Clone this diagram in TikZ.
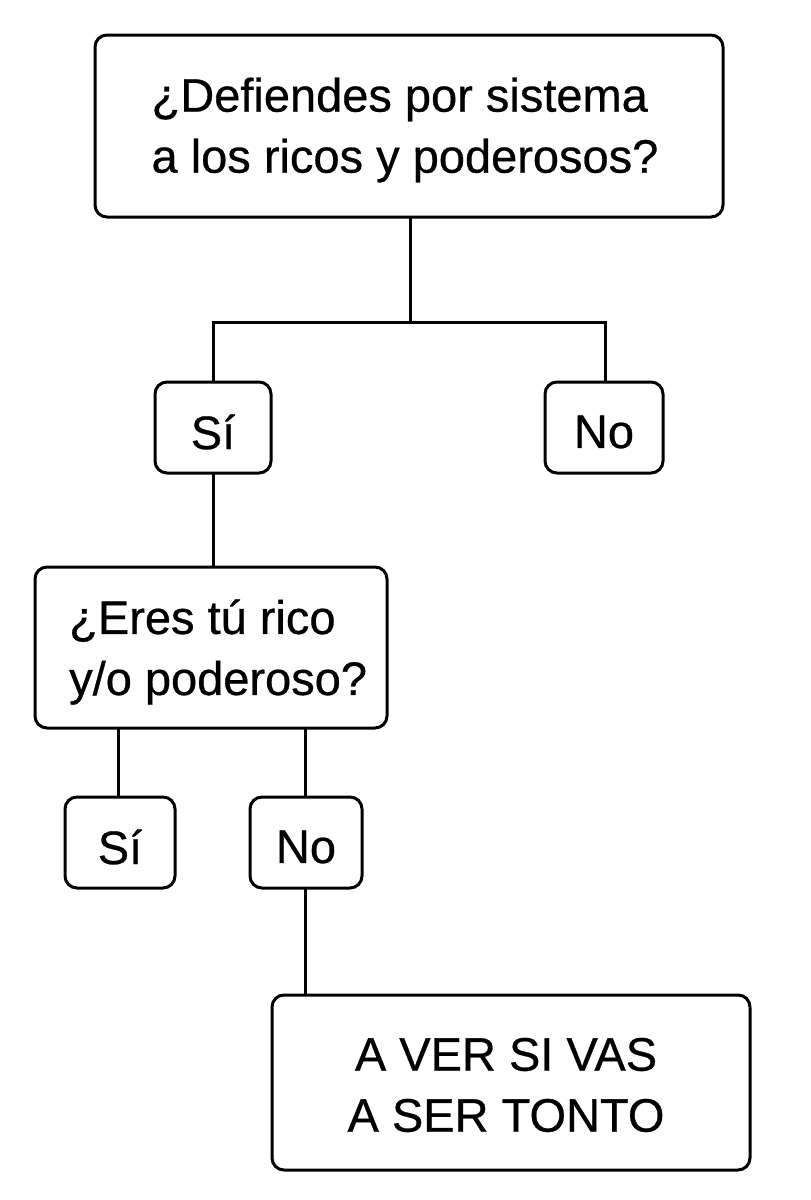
\documentclass[tikz,border=0pt]{standalone}
\usepackage{fontspec}
\setmainfont{Liberation Sans}[FakeBold=0.6]
\begin{document}
\begin{tikzpicture}[x=1pt,y=-1pt,
  box/.style={draw,line width=3pt,rounded corners=12pt},
  txt/.style={font=\fontsize{47}{61}\selectfont,align=left,inner sep=0pt},
  ln/.style={line width=3pt}]
\useasboundingbox (0,0) rectangle (811,1200);
\draw[box] (95,35) rectangle (723,217);
\node[txt] (q1) at (405,130) {¿Defiendes por sistema\\a los ricos y poderosos?};
\draw[box] (155,382) rectangle (271,473);
\node[txt] (s1) at (213,432) {Sí};
\draw[box] (545,382) rectangle (663,473);
\node[txt] (n1) at (604,432) {No};
\draw[box] (35,567) rectangle (387,728);
\node[txt,anchor=west] (q2) at (69,652) {¿Eres tú rico\\y/o poderoso?};
\draw[box] (65,797) rectangle (175,888);
\node[txt] (s2) at (120,847) {Sí};
\draw[box] (250,797) rectangle (362,888);
\node[txt] (n2) at (306,847) {No};
\draw[box] (272,995) rectangle (750,1170);
\node[txt,align=center] (r) at (506,1085) {A VER SI VAS\\A SER TONTO};
\coordinate (a) at (410,217);
\draw[ln] (a) -- (410,322);
\draw[ln] (213,382) -- (213,322) -- (605,322) -- (605,382);
\draw[ln] (213,473) -- (213,567);
\draw[ln] (118,728) -- (118,797);
\draw[ln] (305,728) -- (305,797);
\draw[ln] (305,888) -- (305,995);
\end{tikzpicture}
\end{document}
